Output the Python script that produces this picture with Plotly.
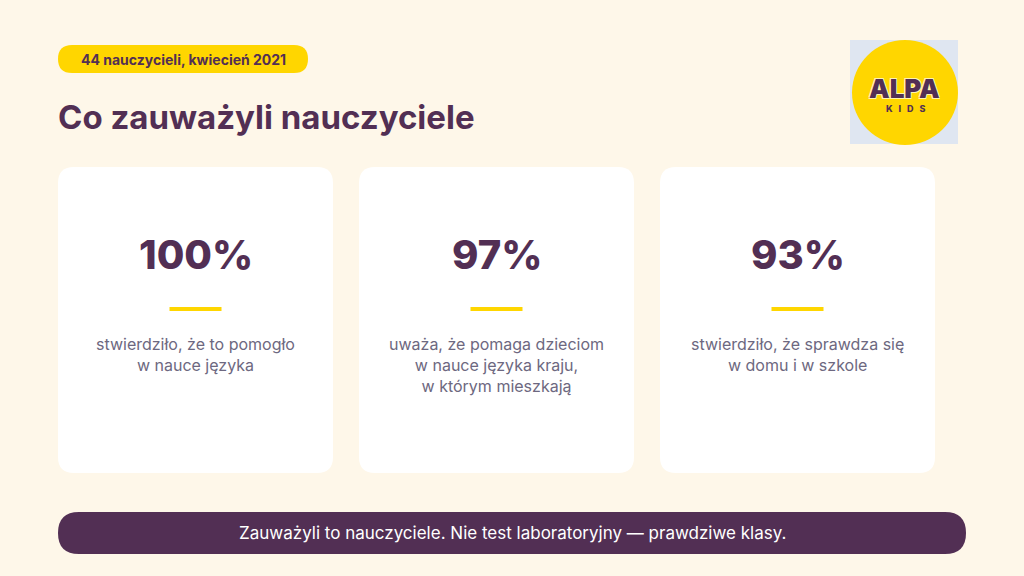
import plotly.graph_objects as go

# dane
badge_text = "44 nauczycieli, kwiecień 2021"
title_text = "Co zauważyli nauczyciele"
stat_values = [100, 97, 93]
stat_labels = [
    "stwierdziło, że to pomogło<br>w nauce języka",
    "uważa, że pomaga dzieciom<br>w nauce języka kraju,<br>w którym mieszkają",
    "stwierdziło, że sprawdza się<br>w domu i w szkole",
]
footer_text = "Zauważyli to nauczyciele. Nie test laboratoryjny — prawdziwe klasy."

# kolory
BG = "#fef7e9"
PURPLE = "#522f54"
YELLOW = "#ffd600"
GREY = "#6d6880"
FONT = "Inter, Open Sans, sans-serif"

W, H = 1024, 576


def rounded_rect(x0, y0, x1, y1, r):
    return (f"M{x0+r},{y0} L{x1-r},{y0} Q{x1},{y0} {x1},{y0+r} "
            f"L{x1},{y1-r} Q{x1},{y1} {x1-r},{y1} L{x0+r},{y1} "
            f"Q{x0},{y1} {x0},{y1-r} L{x0},{y0+r} Q{x0},{y0} {x0+r},{y0} Z")


fig = go.Figure()
shapes = []
annotations = []

# plakietka
shapes.append(dict(type="path", path=rounded_rect(58, 45, 308, 73, 14),
                   fillcolor=YELLOW, line_width=0))
annotations.append(dict(x=183, y=59, text=badge_text, showarrow=False,
                        font=dict(family=FONT, size=14, color=PURPLE, weight=700)))

# tytuł
annotations.append(dict(x=56, y=117, text=title_text, showarrow=False, xanchor="left",
                        font=dict(family=FONT, size=33, color=PURPLE, weight=700)))

# logo
shapes.append(dict(type="rect", x0=850, y0=40, x1=958, y1=144,
                   fillcolor="#dfe6f1", line_width=0))
shapes.append(dict(type="circle", x0=852, y0=40, x1=958, y1=145,
                   fillcolor=YELLOW, line_width=0))
annotations.append(dict(x=904, y=88, text="ALPA", showarrow=False,
                        font=dict(family=FONT, size=26, color=PURPLE, weight=900,
                                  shadow="1px 1px 0 #fff3b0, -1px -1px 0 #fff3b0, 1px -1px 0 #fff3b0, -1px 1px 0 #fff3b0")))
annotations.append(dict(x=905, y=108, text="K   I   D   S", showarrow=False,
                        font=dict(family=FONT, size=9, color=PURPLE, weight=800)))

# karty
card_x = [58, 359, 660]
card_w = 275
for i, (val, lab) in enumerate(zip(stat_values, stat_labels)):
    x0 = card_x[i]
    cx = x0 + card_w / 2
    shapes.append(dict(type="path", path=rounded_rect(x0, 167, x0 + card_w, 473, 16),
                       fillcolor="white", line_width=0))
    shapes.append(dict(type="line", x0=cx - 26, x1=cx + 26, y0=309, y1=309,
                       line=dict(color=YELLOW, width=4)))
    annotations.append(dict(x=cx, y=254, text=f"{val}%", showarrow=False,
                            font=dict(family=FONT, size=40, color=PURPLE, weight=800)))
    annotations.append(dict(x=cx, y=332, yanchor="top", text=lab, showarrow=False,
                            font=dict(family=FONT, size=16, color=GREY)))

# stopka
shapes.append(dict(type="path", path=rounded_rect(58, 512, 966, 554, 21),
                   fillcolor=PURPLE, line_width=0))
annotations.append(dict(x=512, y=533, text=footer_text, showarrow=False,
                        font=dict(family=FONT, size=17, color="white")))

fig.update_layout(
    width=W, height=H, margin=dict(l=0, r=0, t=0, b=0),
    paper_bgcolor=BG, plot_bgcolor=BG,
    xaxis=dict(range=[0, W], visible=False, fixedrange=True),
    yaxis=dict(range=[H, 0], visible=False, fixedrange=True),
    shapes=shapes, annotations=annotations, showlegend=False,
)

fig.write_html("out.html", config={"displayModeBar": False},
               post_script="document.body.style.margin='0';"
                           "document.body.style.background='%s';"
                           "document.body.style.overflow='hidden';" % BG)
